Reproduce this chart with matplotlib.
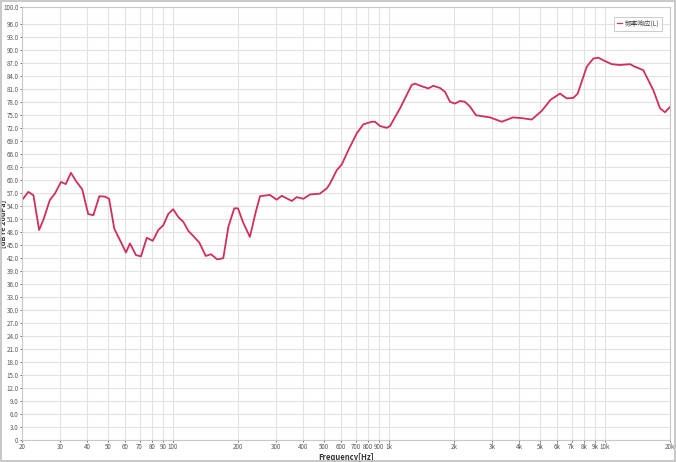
import numpy as np
import matplotlib
matplotlib.use('Agg')
import matplotlib.pyplot as plt
from matplotlib.patches import Rectangle

plt.rcParams['font.family'] = ['Noto Sans CJK SC', 'DejaVu Sans']

# Frequency response
freq = [20, 21.4, 22.6, 24.0, 25.1, 26.9, 28.4, 30.3, 31.9, 33.7, 35.8, 38.0,
        40.5, 42.8, 45.6, 48.5, 50.6, 53.5, 56.9, 60.6, 63.2, 67.4, 71.1, 75.6,
        80.6, 85.5, 90.2, 95.1, 100.2, 105.8, 111.6, 117.8, 124.2, 132.4, 141.8,
        150.0, 160.4, 171.0, 180.4, 192.2, 200, 211, 227, 242, 253, 281, 302,
        319, 355, 374, 401, 431, 479, 515, 533, 573, 604, 648, 709, 761, 832,
        862, 909, 976, 1011, 1125, 1274, 1320, 1417, 1520, 1604, 1723, 1817,
        1917, 2021, 2133, 2248, 2372, 2529, 2936, 3326, 3752, 4173, 4578, 5093,
        5608, 6192, 6649, 7133, 7477, 8233, 8832, 9315, 9825, 10745, 11735,
        13055, 13772, 15046, 16738, 17982, 18963, 20000]
level = [55.4, 57.3, 56.5, 48.5, 50.8, 55.4, 56.9, 59.6, 59.1, 61.7, 59.6, 57.9,
         52.2, 51.9, 56.3, 56.2, 55.7, 48.8, 46.1, 43.3, 45.4, 42.7, 42.4, 46.7,
         46.0, 48.5, 49.6, 52.2, 53.3, 51.5, 50.4, 48.3, 47.1, 45.6, 42.5,
         42.9, 41.7, 42.0, 49.2, 53.5, 53.5, 50.3, 46.9, 52.8, 56.3, 56.6, 55.5,
         56.4, 55.2, 56.1, 55.7, 56.7, 56.9, 58.1, 59.2, 62.3, 63.6, 66.9, 70.8,
         72.9, 73.5, 73.5, 72.5, 72.1, 72.5, 76.6, 82.0, 82.3, 81.7, 81.2, 81.8,
         81.3, 80.4, 78.1, 77.7, 78.3, 78.1, 77.0, 75.0, 74.5, 73.5, 74.5, 74.3,
         74.0, 76.0, 78.6, 80.0, 78.9, 79.0, 80.0, 86.2, 88.1, 88.3, 87.7, 86.8,
         86.6, 86.8, 86.2, 85.4, 80.8, 76.6, 75.7, 76.9]

xticks = [20, 30, 40, 50, 60, 70, 80, 90, 100, 200, 300, 400, 500, 600, 700,
          800, 900, 1000, 2000, 3000, 4000, 5000, 6000, 7000, 8000, 9000,
          10000, 20000]
xlabels = ['20', '30', '40', '50', '60', '70', '80', '90', '100', '200', '300',
           '400', '500', '600', '700', '800', '900', '1k', '2k', '3k', '4k',
           '5k', '6k', '7k', '8k', '9k', '10k', '20k']
yticks = list(range(0, 97, 3)) + [100]
ylabels = ['0'] + ['%.1f' % v for v in yticks[1:]]

fig = plt.figure(figsize=(6.76, 4.62), dpi=100)
ax = fig.add_axes([22 / 676, 1 - 440 / 462, 648 / 676, 433 / 462])

ax.plot(freq, level, color='#cf2f5a', linewidth=1.3, label='频率响应(L)')

ax.set_xscale('log')
ax.set_xlim(20, 20000)
ax.set_ylim(0, 100)
ax.set_xticks(xticks)
ax.set_xticklabels(xlabels)
ax.xaxis.set_minor_locator(matplotlib.ticker.NullLocator())
ax.set_yticks(yticks)
ax.set_yticklabels(ylabels)
ax.grid(True, color='#e2e2e2', linewidth=0.8)
ax.tick_params(axis='both', length=1.5, labelsize=4.5, colors='#555555', pad=1, width=0.6)

for s in ax.spines.values():
    s.set_color('#c8c8c8')
    s.set_linewidth(0.8)

ax.set_xlabel('Frequency[Hz]', fontsize=5.5, fontweight='bold', color='#333333', labelpad=1)
ax.set_ylabel('[dB re 20uPa]', fontsize=5.2, fontweight='bold', color='#333333')
ax.yaxis.set_label_coords(-0.025, 0.5)

leg = ax.legend(loc='upper right', fontsize=4.8, handlelength=0.8, handletextpad=0.4,
                borderpad=0.45, fancybox=False, framealpha=1,
                bbox_to_anchor=(0.993, 0.985))
leg.get_frame().set_edgecolor('#c4c4c4')
leg.get_frame().set_linewidth(0.6)
for line in leg.get_lines():
    line.set_linewidth(0.9)
for t in leg.get_texts():
    t.set_color('#444444')

fig.patches.append(Rectangle((0.001, 0.002), 0.997, 0.996, transform=fig.transFigure,
                             fill=False, edgecolor='#bfbfbf', linewidth=1.2))

fig.savefig('out.png', dpi=100)
